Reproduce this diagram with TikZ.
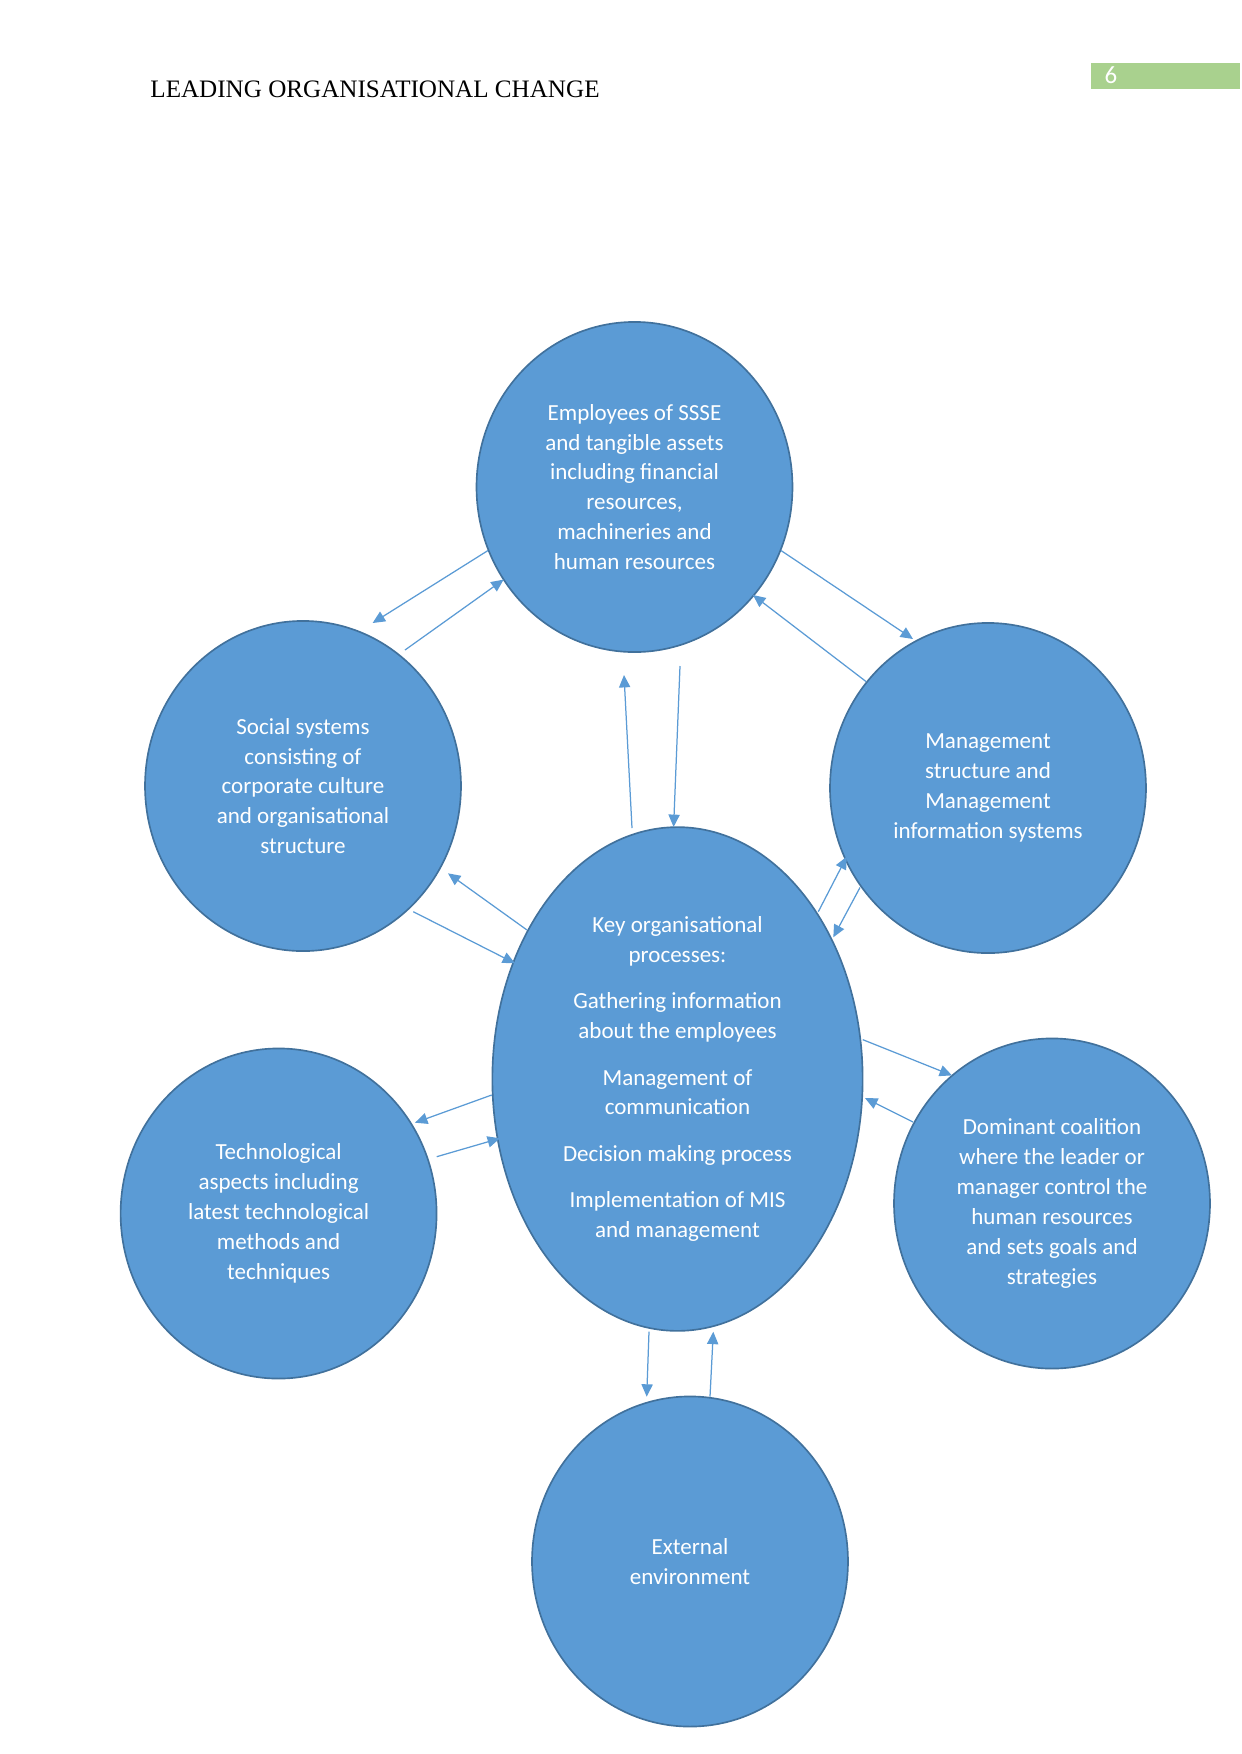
\documentclass[tikz,border=0pt]{standalone}
\usepackage{fontspec}
\setmainfont{Carlito}
\newfontfamily\hdrfont{Liberation Serif}
\usetikzlibrary{shapes.geometric,arrows.meta}
\definecolor{bubble}{HTML}{5B9BD5}
\definecolor{bubbleline}{HTML}{41719C}
\definecolor{arrowc}{HTML}{5B9BD5}
\definecolor{pagegreen}{HTML}{A9D18E}
\begin{document}
\begin{tikzpicture}[x=0.16933mm,y=-0.16933mm,
  bubblebox/.style={ellipse,draw=bubbleline,line width=0.8pt,fill=bubble,
    text=white,align=center,inner sep=0pt,
    font=\fontsize{11.1}{14.4}\selectfont,
    minimum width=53.5mm,minimum height=55.9mm},
  link/.style={draw=arrowc,line width=0.6pt,
    -{Triangle[length=2.1mm,width=1.9mm]}}]
\useasboundingbox (0,0) rectangle (1241,1754);
% header
\node[anchor=base west,inner sep=0pt,font=\hdrfont\fontsize{12.1}{14}\selectfont] (hdr) at (150,97) {LEADING ORGANISATIONAL CHANGE};
\node[fill=pagegreen,minimum width=149*0.16933mm,minimum height=25.7*0.16933mm,inner sep=0pt,anchor=north west] (pg) at (1091,62.7) {};
\node[text=white,font=\fontsize{12}{14}\selectfont,inner sep=0pt] (pgnum) at (1111,75) {6};
% bubbles
\node[bubblebox] (top) at (634.5,487) {Employees of SSSE\\and tangible assets\\including financial\\resources,\\machineries and\\human resources};
\node[bubblebox] (soc) at (303,786) {Social systems\\consisting of\\corporate culture\\and organisational\\structure};
\node[bubblebox] (mgt) at (988,788) {Management\\structure and\\Management\\information systems};
\node[bubblebox,minimum width=62.7mm,minimum height=85.3mm] (key) at (677.5,1079) {Key organisational\\processes:\\[8pt]Gathering information\\about the employees\\[8pt]Management of\\communication\\[8pt]Decision making process\\[8pt]Implementation of MIS\\and management};
\node[bubblebox] (tech) at (278.6,1213.5) {Technological\\aspects including\\latest technological\\methods and\\techniques};
\node[bubblebox] (dom) at (1052,1203.5) {Dominant coalition\\where the leader or\\manager control the\\human resources\\and sets goals and\\strategies};
\node[bubblebox] (ext) at (690,1561.5) {External\\environment};
% connector end points
\coordinate (a1s) at (488,550.5);   \coordinate (a1e) at (372.6,623);
\coordinate (a2s) at (405,650);     \coordinate (a2e) at (503.6,579.6);
\coordinate (a3s) at (781,550.5);   \coordinate (a3e) at (913,639);
\coordinate (a4s) at (866,681.5);   \coordinate (a4e) at (753,595);
\coordinate (a5s) at (632,828);     \coordinate (a5e) at (624,675);
\coordinate (a6s) at (680,666);     \coordinate (a6e) at (673.6,827);
\coordinate (a7s) at (527,930);     \coordinate (a7e) at (448,873.3);
\coordinate (a8s) at (413.3,911.7); \coordinate (a8e) at (515,963.3);
\coordinate (a9s) at (818.3,911.7); \coordinate (a9e) at (846.7,856.7);
\coordinate (a10s) at (860,887.5);  \coordinate (a10e) at (833.3,937.3);
\coordinate (a11s) at (491.7,1095); \coordinate (a11e) at (415,1122.7);
\coordinate (a12s) at (436.7,1156.7); \coordinate (a12e) at (500,1138.3);
\coordinate (a13s) at (862.7,1039.6); \coordinate (a13e) at (952,1075.4);
\coordinate (a14s) at (913,1122);   \coordinate (a14e) at (865,1098);
\coordinate (a15s) at (649,1331.7); \coordinate (a15e) at (646.7,1396.7);
\coordinate (a16s) at (710,1396.7); \coordinate (a16e) at (713.3,1331.7);
% connectors
\foreach \i in {1,...,16} \draw[link] (a\i s) -- (a\i e);
\end{tikzpicture}
\end{document}
